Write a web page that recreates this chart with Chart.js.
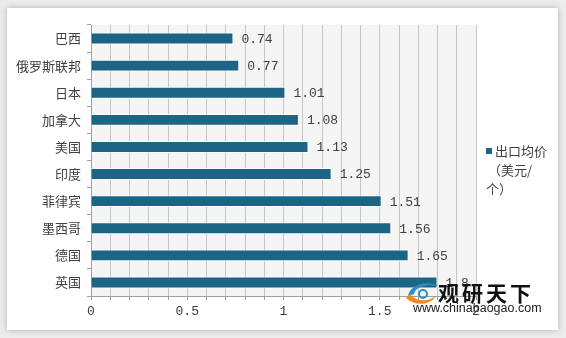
<!DOCTYPE html>
<html>
<head>
<meta charset="utf-8">
<script src="https://cdn.jsdelivr.net/npm/chart.js@4"></script>
<style>
  html, body { margin: 0; padding: 0; }
  body { width: 566px; height: 338px; background: #ececec; position: relative; overflow: hidden; font-family: 'Noto Sans CJK SC', sans-serif; }
  .card { position: absolute; left: 7px; top: 8px; width: 551px; height: 322px; background: #fff; box-shadow: 0 0 6px rgba(0,0,0,0.25); }
  #wrap { position: absolute; left: 0; top: 0; width: 566px; height: 338px; }
  .legend { position: absolute; left: 486px; top: 141px; width: 72px; font-size: 13px; line-height: 19px; color: #404040; }
  .legend .box { display: inline-block; width: 6px; height: 6px; background: #1d6585; margin-right: 3px; vertical-align: 2px; }
  .legend .ind { padding-left: 2px; }
  .mark { position: absolute; left: 404px; top: 276px; width: 160px; height: 40px; }
  .mark svg { position: absolute; left: 0; top: 4px; }
  .mark .brand { position: absolute; left: 34px; top: 1px; font-size: 21px; font-weight: bold; color: #111; letter-spacing: 3px; }
  .mark .url { position: absolute; left: 9px; top: 25px; font-family: 'Liberation Sans', Arial, sans-serif; font-size: 12.5px; color: #222; }
</style>
</head>
<body>
<div class="card"></div>
<div id="wrap"><canvas id="priceChart" width="566" height="338"></canvas></div>
<div class="legend" id="legend"></div>
<div class="mark">
  <svg width="36" height="26" viewBox="0 0 36 26">
    <path d="M4 16 C6 4, 24 0, 34 6 C24 4, 12 6, 10 14 Z" fill="#2a8fc0"/>
    <path d="M2 18 C10 26, 26 26, 32 16 C24 22, 12 22, 6 14 Z" fill="#f08a1c"/>
    <circle cx="19" cy="14" r="4" fill="none" stroke="#2a8fc0" stroke-width="2"/>
  </svg>
  <span class="brand">观研天下</span><span class="url">www.chinabaogao.com</span>
</div>
<script>
// data
const countries = ['巴西', '俄罗斯联邦', '日本', '加拿大', '美国', '印度', '菲律宾', '墨西哥', '德国', '英国'];
const avgPrice = [0.74, 0.77, 1.01, 1.08, 1.13, 1.25, 1.51, 1.56, 1.65, 1.8];
const seriesName = '出口均价（美元/个）';
const labelTicks = [0, 0.5, 1, 1.5, 2];

const barColor = '#1d6585';

// legend (wrapped like the original)
document.getElementById('legend').innerHTML =
    '<span class="box"></span>出口均价<br><span class="ind">（美元/</span><br>个）';

// grey plot background
const plotBg = {
    id: 'plotBg',
    beforeDraw: function(chart) {
        const a = chart.chartArea, ctx = chart.ctx;
        ctx.save();
        ctx.fillStyle = '#f5f5f5';
        ctx.fillRect(a.left, a.top, a.right - a.left, a.bottom - a.top);
        ctx.restore();
    }
};

// value labels right of each bar
const valueLabels = {
    id: 'valueLabels',
    afterDatasetsDraw: function(chart) {
        const ctx = chart.ctx;
        const meta = chart.getDatasetMeta(0);
        ctx.save();
        ctx.font = "13px 'Liberation Mono', monospace";
        ctx.fillStyle = '#404040';
        ctx.textBaseline = 'middle';
        meta.data.forEach(function(bar, i) {
            ctx.fillText(String(avgPrice[i]), bar.x + 8, bar.y + 1);
        });
        ctx.restore();
    }
};

new Chart(document.getElementById('priceChart'), {
    type: 'bar',
    data: {
        labels: countries,
        datasets: [{
            label: seriesName,
            data: avgPrice,
            backgroundColor: barColor,
            borderColor: '#ffffff',
            borderWidth: 1,
            barPercentage: 0.44,
            categoryPercentage: 1
        }]
    },
    options: {
        indexAxis: 'y',
        responsive: false,
        animation: false,
        layout: { padding: { left: 0, right: 90, top: 25, bottom: 0 } },
        plugins: { legend: { display: false }, tooltip: { enabled: false } },
        scales: {
            x: {
                min: 0, max: 2,
                ticks: {
                    stepSize: 0.1,
                    autoSkip: false,
                    maxRotation: 0,
                    color: '#404040',
                    font: { family: "'Liberation Mono', monospace", size: 13 },
                    padding: 4,
                    callback: function(v) {
                        const hit = labelTicks.find(t => Math.abs(t - v) < 1e-6);
                        return hit === undefined ? '' : String(hit);
                    }
                },
                grid: { color: '#c6c6c6', lineWidth: 1, tickLength: 4, tickColor: '#a0a0a0' },
                border: { color: '#a0a0a0' },
                afterFit: function(axis) { axis.height = 42; }
            },
            y: {
                ticks: {
                    color: '#404040',
                    font: { family: "'Noto Sans CJK SC', sans-serif", size: 13 },
                    padding: 6
                },
                grid: { drawOnChartArea: false, tickLength: 4, color: '#a0a0a0', offset: true },
                border: { color: '#a0a0a0' },
                afterFit: function(axis) { axis.width = 91; }
            }
        }
    },
    plugins: [plotBg, valueLabels]
});
</script>
</body>
</html>
